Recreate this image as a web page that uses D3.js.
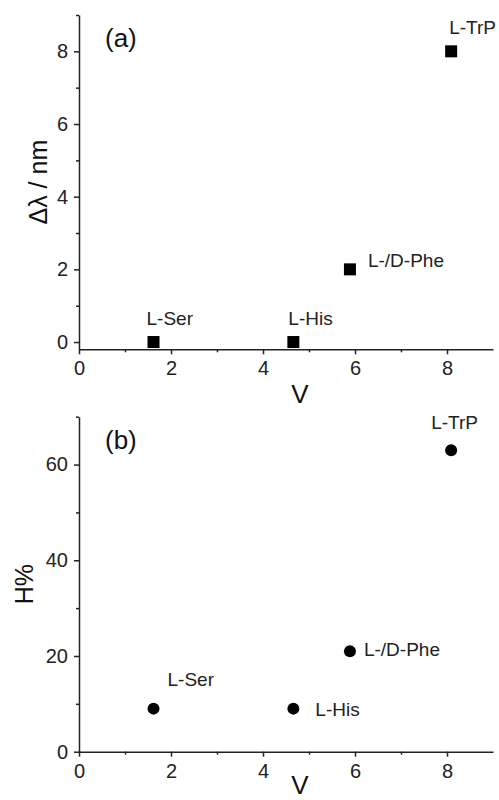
<!DOCTYPE html>
<html>
<head>
<meta charset="utf-8">
<script src="https://cdn.jsdelivr.net/npm/d3@7"></script>
<style>
  body { margin: 0; background: #fff; }
  svg { display: block; font-family: "Liberation Sans", Arial, sans-serif; }
  .axis path, .axis line { stroke: #222; stroke-width: 1.5; }
  .axis text { fill: #222; font-size: 20px; }
</style>
</head>
<body>
<div id="chart"></div>
<script>
// amino acids, their V value and the two measured responses
const aminoAcids = ["L-Ser", "L-His", "L-/D-Phe", "L-TrP"];
const vValues = [1.62, 4.66, 5.89, 8.09];
const shiftNm = [0, 0, 2, 8];
const hPercent = [9, 9, 21, 63];

const xTicks = [0, 2, 4, 6, 8];
const xMinor = [1, 3, 5, 7];
const shiftTicks = [0, 2, 4, 6, 8];
const shiftMinor = [1, 3, 5, 7, 9];
const hTicks = [0, 20, 40, 60];
const hMinor = [10, 30, 50, 70];

const width = 499, height = 800;

const svg = d3
  .select("#chart")
  .append("svg")
  .attr("width", width)
  .attr("height", height);

// both panels share the same V scale
const x = d3.scaleLinear().domain([0, 9]).range([79, 493]);

// label offsets from the marker centre, per panel (px)
const offsetsA = [[-7, -17], [-5, -17], [18, -2], [-2, -17]];
const offsetsB = [[14, -23], [22, 7], [14, 5], [-20, -21]];

drawPanel = (opts) => {
  const { y, yTicks, yMinor, values, tag, yTitle, titleX, offsets, marker, axisY, vGap } = opts;
  const g = svg.append("g");

  // x axis (major + minor)
  g.append("g")
    .attr("class", "axis")
    .attr("transform", `translate(0,${axisY})`)
    .call(d3.axisBottom(x).tickValues(xTicks).tickSize(5).tickSizeOuter(0).tickPadding(7));
  g.append("g")
    .attr("class", "axis")
    .attr("transform", `translate(0,${axisY})`)
    .call(d3.axisBottom(x).tickValues(xMinor).tickSize(3).tickFormat(""))
    .call((a) => a.select(".domain").remove());

  // y axis (major + minor)
  g.append("g")
    .attr("class", "axis")
    .attr("transform", `translate(${x(0)},0)`)
    .call(d3.axisLeft(y).tickValues(yTicks).tickSize(5).tickSizeOuter(0).tickPadding(6));
  g.append("g")
    .attr("class", "axis")
    .attr("transform", `translate(${x(0)},0)`)
    .call(d3.axisLeft(y).tickValues(yMinor).tickSize(3).tickFormat(""))
    .call((a) => a.select(".domain").remove());

  // points
  const pts = aminoAcids.map((name, i) => ({ name, v: vValues[i], val: values[i], i }));
  if (marker === "square") {
    g.selectAll("rect.pt")
      .data(pts)
      .join("rect")
      .attr("class", "pt")
      .attr("x", (d) => x(d.v) - 6)
      .attr("y", (d) => y(d.val) - 6)
      .attr("width", 12)
      .attr("height", 12)
      .attr("fill", "#000");
  } else {
    g.selectAll("circle.pt")
      .data(pts)
      .join("circle")
      .attr("class", "pt")
      .attr("cx", (d) => x(d.v))
      .attr("cy", (d) => y(d.val))
      .attr("r", 6)
      .attr("fill", "#000");
  }

  g.selectAll("text.lbl")
    .data(pts)
    .join("text")
    .attr("class", "lbl")
    .attr("x", (d) => x(d.v) + offsets[d.i][0])
    .attr("y", (d) => y(d.val) + offsets[d.i][1])
    .attr("font-size", 19)
    .attr("fill", "#222")
    .text((d) => d.name);

  // panel tag
  g.append("text")
    .attr("x", 105)
    .attr("y", y.range()[1] + 32)
    .attr("font-size", 26)
    .attr("fill", "#111")
    .text(tag);

  // axis titles
  g.append("text")
    .attr("x", 300)
    .attr("y", axisY + vGap)
    .attr("text-anchor", "middle")
    .attr("font-size", 26)
    .attr("fill", "#111")
    .text("V");

  const midY = (y.range()[0] + y.range()[1]) / 2;
  g.append("text")
    .attr("transform", `translate(${titleX},${midY}) rotate(-90)`)
    .attr("text-anchor", "middle")
    .attr("font-size", 25)
    .attr("fill", "#111")
    .text(yTitle);
};

const yA = d3.scaleLinear().domain([-0.2, 9]).range([349.3, 15]);
drawPanel({
  y: yA, yTicks: shiftTicks, yMinor: shiftMinor, values: shiftNm,
  tag: "(a)", yTitle: "Δλ / nm", titleX: 47, offsets: offsetsA,
  marker: "square", axisY: 349.3, vGap: 54,
});

const yB = d3.scaleLinear().domain([0, 70]).range([751.7, 416.7]);
drawPanel({
  y: yB, yTicks: hTicks, yMinor: hMinor, values: hPercent,
  tag: "(b)", yTitle: "H%", titleX: 33, offsets: offsetsB,
  marker: "circle", axisY: 751.7, vGap: 42,
});
</script>
</body>
</html>
